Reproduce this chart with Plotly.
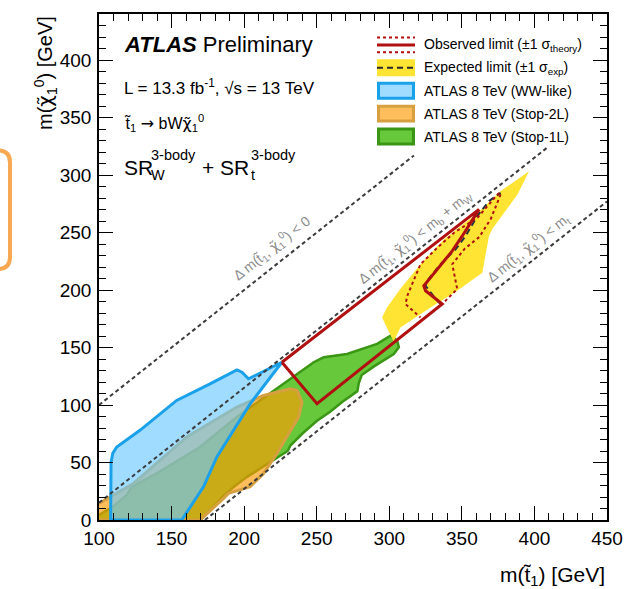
import plotly.graph_objects as go

# ---------------- data (GeV) ----------------
green_x = [100, 110, 119.1, 122.5, 139.8, 148.9, 169.6, 194.9, 227.2, 247.9, 254.8, 270.9, 291.6, 300.8, 305.4, 306.6,
           303.1, 290, 281, 279, 278, 268, 259, 250, 240, 232, 230, 215, 202, 193, 185, 178, 172, 170, 100]
green_y = [4.3, 12, 21.7, 28.9, 40.5, 47.6, 63.5, 89.5, 118.4, 137.2, 141.5, 144.4, 153.1, 160.3, 156, 150.2,
           144.4, 134, 126, 119, 112, 103, 94, 86, 75, 65, 60, 48, 37.5, 29, 20, 10, 3, 0, 0]

orange_x = [100, 123.7, 160.5, 195, 213.4, 231.8, 236.4, 239.9, 237.5, 222.6, 213.4, 204.2, 189.2, 185.8, 169.7, 100]
orange_y = [14.4, 31.8, 72.2, 98.2, 108.3, 114.1, 112.7, 102.5, 89.5, 57.8, 40.5, 28.9, 23.1, 18.8, 0, 0]

blue_x = [108, 108.3, 109.5, 112.2, 128.2, 153.5, 176.5, 195, 198.5, 203, 226, 204.2, 181.2, 172, 157, 108]
blue_y = [0, 50, 58, 63.5, 78, 104, 118.4, 130.6, 128.5, 122.8, 137.2, 101.1, 54.9, 28.9, 0, 0]

yellow_x = [295, 298.5, 307.7, 321.5, 337.6, 360.7, 376.7, 396.3, 388.3, 371, 368.7, 364.1, 346.8, 328.4, 307.7, 303, 295]
yellow_y = [176, 185, 201, 222.4, 244, 267, 286, 303.3, 283, 253, 247, 215, 199.3, 184.8, 167.5, 155, 176]

obs_x = [226, 250.2, 336.5, 325, 323.8, 343.4, 350.3, 361.8, 226]
obs_y = [137.2, 101.1, 187.8, 199.3, 203.6, 234, 247, 270.1, 137.2]

obs_up_x = [375.6, 368.7, 360.7, 344.6, 333.1, 321.5, 312.4, 311.2, 321.5]
obs_up_y = [284.5, 274.4, 262.8, 249.8, 236.8, 222.4, 195, 187.8, 176.1]

obs_dn_x = [376.7, 370, 362, 352, 343.4, 346.8, 337.6]
obs_dn_y = [283.1, 262, 246, 236, 222.4, 200.8, 189.2]

exp_x = [335.3, 333.1, 325, 326.1, 335.3, 345.7, 352.6, 360.6, 368.7, 376.7]
exp_y = [187.8, 190.6, 203.6, 208, 222.4, 235.4, 247, 264.3, 277.3, 284.5]

# kinematic boundaries: m(chi) = m(stop) - offset
diag_offsets = [0, 85, 173]
diag_x_start = [100, 100, 173]
diag_x_end = [317, 410, 450]

CHI = '<span style="font-family:DejaVu Sans">χ̃</span>'
ARROW = '<span style="font-family:DejaVu Sans">→</span>'
diag_labels = [f"Δ m(t̃<sub>1</sub>, {CHI}<sub>1</sub><sup>0</sup>) < 0",
               f"Δ m(t̃<sub>1</sub>, {CHI}<sub>1</sub><sup>0</sup>) < m<sub>b</sub> + m<sub>W</sub>",
               f"Δ m(t̃<sub>1</sub>, {CHI}<sub>1</sub><sup>0</sup>) < m<sub>t</sub>"]
diag_label_x = [219.2, 317.7, 395.6]
diag_label_y = [236.5, 246, 236.5]

legend_labels = ["Observed limit (±1 σ<sub>theory</sub>)",
                 "Expected limit (±1 σ<sub>exp</sub>)",
                 "ATLAS 8 TeV (WW-like)",
                 "ATLAS 8 TeV (Stop-2L)",
                 "ATLAS 8 TeV (Stop-1L)"]

x_ticks = [100, 150, 200, 250, 300, 350, 400, 450]
y_ticks = [0, 50, 100, 150, 200, 250, 300, 350, 400]

# ---------------- layout helpers ----------------
W, H = 637, 589
ML, MR, MT, MB = 99, 30, 12, 69
PW, PH = W - ML - MR, H - MT - MB
FONT = "Liberation Sans, Arial, Helvetica, sans-serif"


def PX(p):
    return (p - ML) / PW


def PY(p):
    return (H - MB - p) / PH


RED = "rgb(176,16,16)"
GREEN_F, GREEN_L = "rgb(102,200,58)", "rgb(58,150,20)"
ORANGE_F, ORANGE_L = "rgba(255,154,4,0.65)", "rgb(214,160,64)"
BLUE_F, BLUE_L = "rgba(106,201,255,0.64)", "rgb(27,161,234)"
YELLOW = "rgb(255,228,51)"

fig = go.Figure()


def poly(x, y, fc, lc, lw):
    fig.add_trace(go.Scatter(x=x, y=y, mode="lines", fill="toself", fillcolor=fc,
                             line=dict(color=lc, width=lw), hoverinfo="skip", showlegend=False))


poly(green_x, green_y, GREEN_F, GREEN_L, 2.5)
poly(orange_x, orange_y, ORANGE_F, ORANGE_L, 3)
poly(blue_x, blue_y, BLUE_F, BLUE_L, 3)
poly(yellow_x, yellow_y, YELLOW, "rgba(0,0,0,0)", 0)

for off, xs, xe in zip(diag_offsets, diag_x_start, diag_x_end):
    fig.add_trace(go.Scatter(x=[xs, xe], y=[xs - off, xe - off], mode="lines",
                             line=dict(color="rgb(60,60,60)", width=2, dash="4px,3px"),
                             hoverinfo="skip", showlegend=False))

fig.add_trace(go.Scatter(x=exp_x, y=exp_y, mode="lines",
                         line=dict(color="rgb(40,50,60)", width=2, dash="6px,4px"),
                         hoverinfo="skip", showlegend=False))
for xs, ys in [(obs_up_x, obs_up_y), (obs_dn_x, obs_dn_y)]:
    fig.add_trace(go.Scatter(x=xs, y=ys, mode="lines", line=dict(color=RED, width=2, dash="dot"),
                             hoverinfo="skip", showlegend=False))
fig.add_trace(go.Scatter(x=obs_x, y=obs_y, mode="lines", line=dict(color=RED, width=3),
                         hoverinfo="skip", showlegend=False))

ann = []
for t, lx, ly in zip(diag_labels, diag_label_x, diag_label_y):
    ann.append(dict(x=lx, y=ly, xref="x", yref="y", text=t, showarrow=False, textangle=-38.5,
                    font=dict(family=FONT, size=14, color="rgb(140,140,140)")))


# top-left texts
def txt(px, py, t, size, anchor="left"):
    ann.append(dict(x=PX(px), y=PY(py), xref="paper", yref="paper", text=t, showarrow=False,
                    xanchor=anchor, yanchor="middle", font=dict(family=FONT, size=size, color="black")))


txt(122, 43, "<b><i>ATLAS</i></b> Preliminary", 22)
txt(122, 85, "L = 13.3 fb<sup>-1</sup>, √s = 13 TeV", 17)
txt(122, 121, f"t̃<sub>1</sub> {ARROW} bW{CHI}<sub>1</sub><sup>0</sup>", 16)
txt(122, 166, "SR", 21)
txt(149, 154, "3-body", 14.5)
txt(149, 174, "W", 14.5)
txt(200, 166, "+ SR", 21)
txt(249, 154, "3-body", 14.5)
txt(249, 174, "t", 14.5)

# axis titles
ann.append(dict(x=1, y=PY(576), xref="paper", yref="paper", text="m(t̃<sub>1</sub>) [GeV]",
                showarrow=False, xanchor="right", yanchor="middle",
                font=dict(family=FONT, size=21, color="black")))
ann.append(dict(x=PX(45), y=1.0, xref="paper", yref="paper",
                text=f"m({CHI}<sub>1</sub><sup>0</sup>) [GeV]",
                showarrow=False, xanchor="center", yanchor="top", textangle=-90,
                font=dict(family=FONT, size=20, color="black")))

# legend
rows = [43, 66, 89, 112, 135]
bx0, bx1 = 377, 415
shapes = []
for lab, r in zip(legend_labels, rows):
    txt(422, r, lab, 14)
# observed
shapes.append(dict(type="line", xref="paper", yref="paper", x0=PX(bx0), x1=PX(bx1), y0=PY(43), y1=PY(43),
                   line=dict(color=RED, width=3)))
for d in (-7.5, 7.5):
    shapes.append(dict(type="line", xref="paper", yref="paper", x0=PX(bx0), x1=PX(bx1), y0=PY(43 + d),
                       y1=PY(43 + d), line=dict(color=RED, width=2, dash="dot")))
# expected
shapes.append(dict(type="rect", xref="paper", yref="paper", x0=PX(bx0), x1=PX(bx1), y0=PY(57.5), y1=PY(74.5),
                   fillcolor=YELLOW, line=dict(width=0)))
shapes.append(dict(type="line", xref="paper", yref="paper", x0=PX(bx0), x1=PX(bx1), y0=PY(66), y1=PY(66),
                   line=dict(color="rgb(40,40,40)", width=2, dash="6px,4px")))
for r, fc, lc in [(89, BLUE_F, BLUE_L), (112, ORANGE_F, ORANGE_L), (135, GREEN_F, GREEN_L)]:
    shapes.append(dict(type="rect", xref="paper", yref="paper", x0=PX(bx0 + 1.5), x1=PX(bx1 - 1.5),
                       y0=PY(r - 7.5), y1=PY(r + 7.5), fillcolor=fc, line=dict(color=lc, width=3)))


# orange rounded box partly off the left edge (slide artefact)
def pp(px, py):
    return f"{PX(px)},{PY(py)}"


path = (f"M {pp(-30, 149)} L {pp(-2, 149)} Q {pp(10, 149)} {pp(10, 161)} L {pp(10, 256)} "
        f"Q {pp(10, 268)} {pp(-2, 268)} L {pp(-30, 268)}")
shapes.append(dict(type="path", xref="paper", yref="paper", path=path,
                   line=dict(color="rgb(248,168,82)", width=4)))

axis_common = dict(showline=True, linecolor="black", linewidth=1.5, mirror="ticks", ticks="inside",
                   ticklen=14, tickwidth=1.2, tickcolor="black", showgrid=False, zeroline=False,
                   tickfont=dict(family=FONT, size=19, color="black"),
                   minor=dict(dtick=10, ticks="inside", ticklen=7, tickwidth=1.2, tickcolor="black",
                              showgrid=False))

fig.update_layout(
    width=W, height=H, margin=dict(l=ML, r=MR, t=MT, b=MB),
    paper_bgcolor="white", plot_bgcolor="white", showlegend=False,
    xaxis=dict(range=[100, 450], tickvals=x_ticks, ticktext=[str(v) for v in x_ticks], **axis_common),
    yaxis=dict(range=[0, 440], tickvals=y_ticks, ticktext=[str(v) for v in y_ticks],
               ticklabelstandoff=2, **axis_common),
    annotations=ann, shapes=shapes,
)

fig.write_html("out.html")
